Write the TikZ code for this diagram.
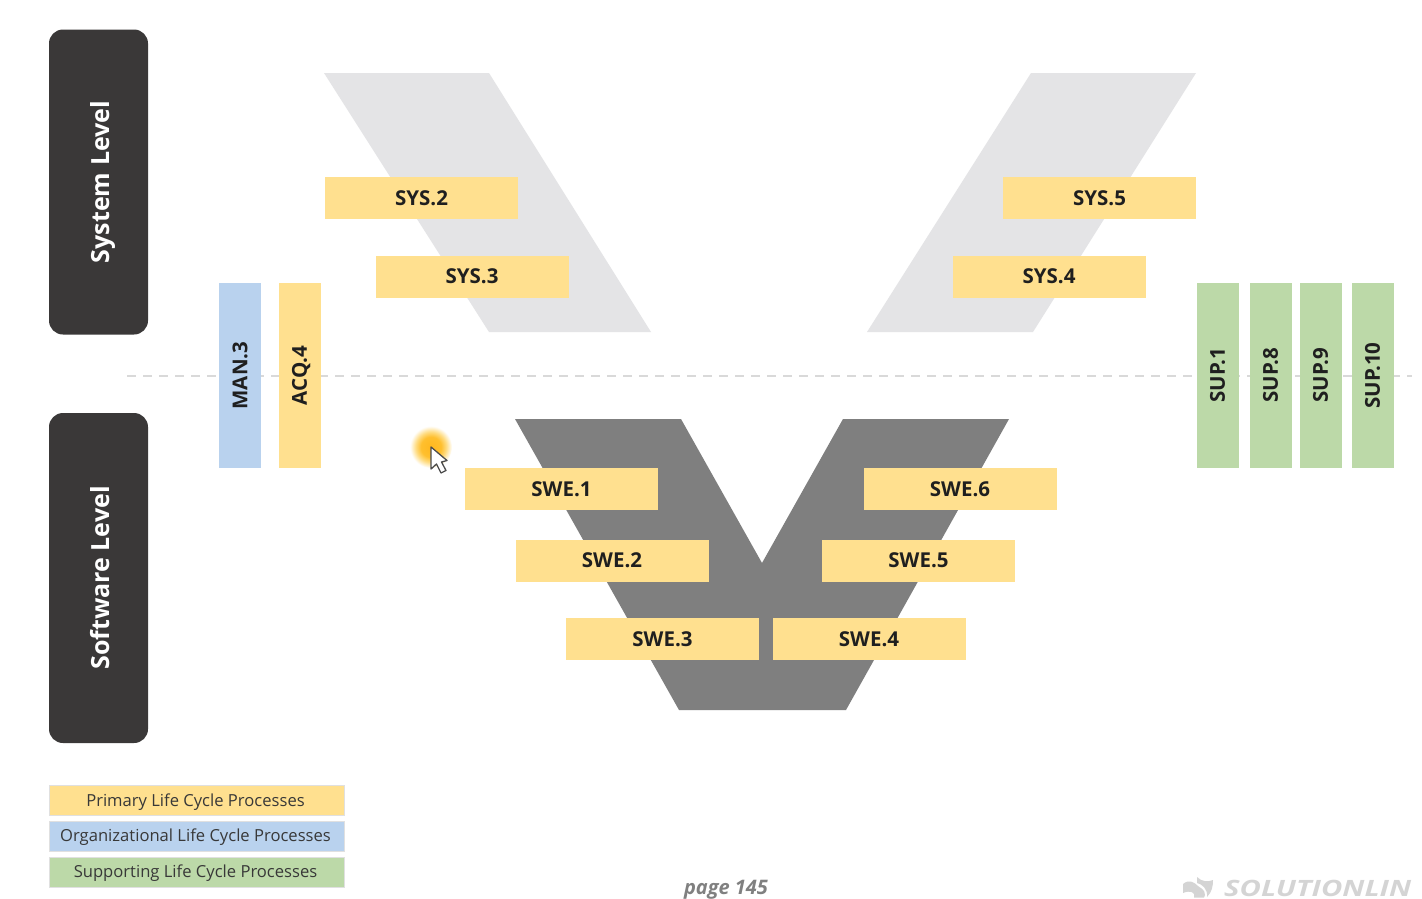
\documentclass[tikz,border=0pt]{standalone}
\usepackage{fontspec}
\setmainfont{Open Sans}
\definecolor{pri}{HTML}{FFE08F}
\definecolor{org}{HTML}{B9D2EE}
\definecolor{sup}{HTML}{BCD9A8}
\definecolor{dark}{HTML}{3A3838}
\definecolor{lightv}{HTML}{E4E4E6}
\definecolor{darkv}{HTML}{7F7F7F}
\definecolor{glowa}{rgb}{1,0.72,0.12}
\definecolor{glowb}{rgb}{1,0.75,0.18}
\definecolor{glowc}{rgb}{1,0.86,0.5}
\pgfdeclareradialshading{glow}{\pgfpointorigin}{
  color(0bp)=(glowa);
  color(12bp)=(glowb);
  color(18bp)=(glowc);
  color(25bp)=(white);
  color(50bp)=(white)}
\tikzset{
  x=1pt,y=-1pt,
  levelbox/.style={fill=dark,rounded corners=14pt,text=white,font=\fontsize{25}{30}\selectfont\bfseries,rotate=90,inner sep=0pt,text height=21pt,text depth=0pt},
  hbox/.style={fill=pri,minimum width=193pt,minimum height=42pt,inner sep=0pt,font=\fontsize{20.5}{24}\selectfont\bfseries,text=black!88,text height=14.6pt,text depth=0pt},
  vbox/.style={minimum width=185pt,minimum height=42pt,inner sep=0pt,rotate=90,font=\fontsize{20.5}{24}\selectfont\bfseries,text=black!88,text height=14.6pt,text depth=0pt},
  legend/.style={minimum width=295pt,minimum height=30pt,inner sep=0pt,draw=black!12,line width=1pt,font=\fontsize{16.6}{20}\selectfont,text=black!78,text height=15pt,text depth=4pt},
}
\begin{document}
\begin{tikzpicture}
\useasboundingbox (0,0) rectangle (1422,898);
\fill[white] (0,0) rectangle (1422,898);
% V shapes
\fill[lightv] (324,73) -- (489,73) -- (651,332) -- (489,332) -- cycle;
\fill[lightv] (1031,73) -- (1196,73) -- (1033,332) -- (867,332) -- cycle;
\fill[darkv] (515,419) -- (681,419) -- (762,563) -- (843,419) -- (1009,419) -- (846,710) -- (679,710) -- cycle;
% dashed line
\coordinate (dl) at (127,376);
\coordinate (dr) at (1412,376);
\draw[black!15,line width=2pt,dash pattern=on 9pt off 7pt] (dl) -- (dr);
% level boxes
\node[levelbox,minimum height=99pt,minimum width=305pt] (sys) at (98.5,182) {System Level};
\node[levelbox,minimum height=99pt,minimum width=330pt] (swl) at (98.5,578) {Software Level};
% vertical
\node[vbox,fill=org] (man) at (240,375.5) {MAN.3};
\node[vbox,fill=pri] (acq) at (299.5,375.5) {ACQ.4};
\node[vbox,fill=sup] (s1) at (1217.5,375.5) {SUP.1};
\node[vbox,fill=sup] (s8) at (1270.5,375.5) {SUP.8};
\node[vbox,fill=sup] (s9) at (1320.5,375.5) {SUP.9};
\node[vbox,fill=sup] (s10) at (1372.5,375.5) {SUP.10};
% horizontal
\node[hbox] (sys2) at (421.5,198) {SYS.2};
\node[hbox] (sys3) at (472,276.5) {SYS.3};
\node[hbox] (sys5) at (1099.5,198) {SYS.5};
\node[hbox] (sys4) at (1049,276.5) {SYS.4};
\node[hbox] (swe1) at (561.5,489) {SWE.1};
\node[hbox] (swe2) at (612,560.5) {SWE.2};
\node[hbox] (swe3) at (662.5,639) {SWE.3};
\node[hbox] (swe4) at (869,639) {SWE.4};
\node[hbox] (swe5) at (918.5,560.5) {SWE.5};
\node[hbox] (swe6) at (960,489) {SWE.6};
% legend
\node[legend,fill=pri] (l1) at (197,800.5) {Primary Life Cycle Processes\kern3pt};
\node[legend,fill=org] (l2) at (197,836) {Organizational Life Cycle Processes\kern3pt};
\node[legend,fill=sup] (l3) at (197,872) {Supporting Life Cycle Processes\kern3pt};
% cursor glow and arrow
\shade[shading=glow] (431,447) circle (21);
\fill[white,draw=black!70,line width=1.3pt,line join=round]
  (431,447) -- (431,469) -- (436.5,464) -- (441,473) -- (446,470.5) -- (441.5,462) -- (447,460.5) -- cycle;
% footer
\node[text=black!50,font=\fontsize{20}{24}\selectfont\bfseries\itshape] (page) at (726,889.5) {page 145};
\fill[black!17] (1183,884) .. controls (1189,879) and (1194,882) .. (1198,886) .. controls (1200,888) and (1205,889) .. (1205,895) -- (1204,897.5) -- (1194,897.5) .. controls (1196,892) and (1190,890) .. (1183,893) -- cycle;
\fill[black!17] (1197,877) .. controls (1202,882) and (1208,882) .. (1213,880) .. controls (1213,886) and (1212,892) .. (1207,897) .. controls (1208,889) and (1202,884) .. (1197,883) -- cycle;
\node[anchor=base west,inner sep=0pt,text=black!17,font=\fontsize{22.5}{26}\selectfont\bfseries\itshape] (wm) at (1224,896) {\scalebox{1.3}[1]{SOLUTIONLIN}};
\end{tikzpicture}
\end{document}
